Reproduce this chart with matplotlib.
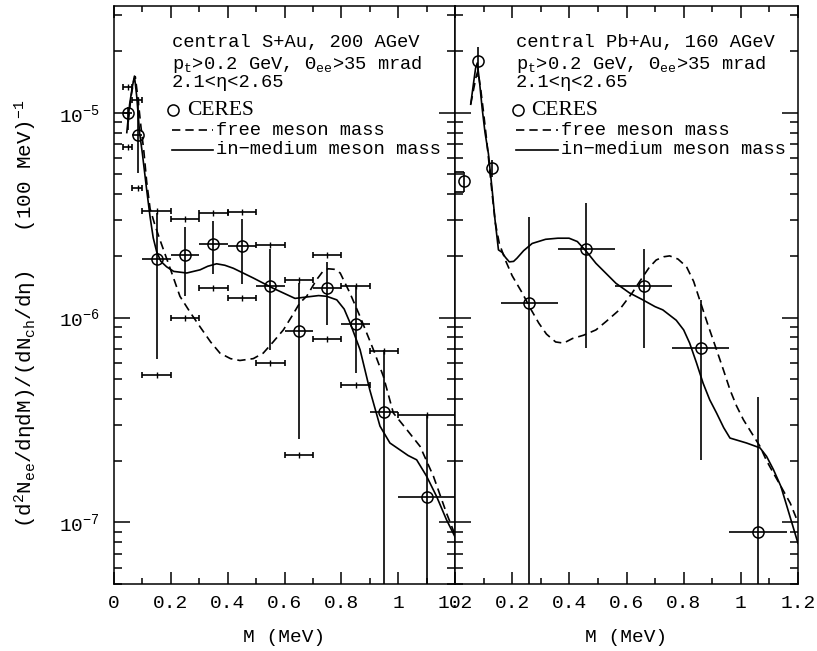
import numpy as np
import matplotlib
matplotlib.use('Agg')
import matplotlib.pyplot as plt
from matplotlib.ticker import MultipleLocator, LogLocator, NullFormatter, FuncFormatter

plt.rcParams['font.family'] = ['Liberation Mono', 'DejaVu Sans Mono']
plt.rcParams['mathtext.default'] = 'regular'

# ---- S+Au 200 AGeV (left panel) ----
sau_x = np.array([0.048, 0.083, 0.15, 0.25, 0.35, 0.45, 0.55, 0.65, 0.75, 0.85, 0.95, 1.1])
sau_xlo = np.array([0.03, 0.065, 0.1, 0.2, 0.3, 0.4, 0.5, 0.6, 0.7, 0.8, 0.9, 1.0])
sau_xhi = np.array([0.065, 0.1, 0.2, 0.3, 0.4, 0.5, 0.6, 0.7, 0.8, 0.9, 1.0, 1.2])
sau_y = np.array([1.0e-5, 7.8e-6, 1.93e-6, 2.02e-6, 2.28e-6, 2.24e-6, 1.43e-6, 8.6e-7,
                  1.40e-6, 9.35e-7, 3.45e-7, 1.33e-7])
sau_stat_hi = np.array([1.07e-5, 1.15e-5, 3.23e-6, 2.78e-6, 2.96e-6, 3.03e-6, 2.16e-6, 1.47e-6,
                        1.86e-6, 1.42e-6, 6.96e-7, 3.33e-7])
sau_stat_lo = np.array([8.2e-6, 5.06e-6, 6.27e-7, 1.27e-6, 1.63e-6, 1.45e-6, 6.95e-7, 2.55e-7,
                        9.2e-7, 5.35e-7, 1e-9, 1e-9])
sau_sys_hi = np.array([1.33e-5, 1.15e-5, 3.3e-6, 3.04e-6, 3.23e-6, 3.26e-6, 2.27e-6, 1.52e-6,
                       2.01e-6, 1.42e-6, 6.9e-7, 3.33e-7])
sau_sys_lo = np.array([6.83e-6, 4.3e-6, 5.25e-7, 1.0e-6, 1.39e-6, 1.25e-6, 5.99e-7, 2.13e-7,
                       7.9e-7, 4.66e-7, np.nan, np.nan])

sau_med_x = [0.045, 0.055, 0.065, 0.072, 0.08, 0.09, 0.10, 0.115, 0.127, 0.138, 0.15, 0.165,
             0.185, 0.21, 0.256, 0.303, 0.33, 0.361, 0.39, 0.42, 0.49, 0.56, 0.637, 0.678,
             0.72, 0.748, 0.784, 0.81, 0.831, 0.866, 0.9, 0.936, 0.971, 1.006, 1.035, 1.065,
             1.1, 1.135, 1.17, 1.2]
sau_med_y = [8.0e-6, 1.1e-5, 1.35e-5, 1.51e-5, 1.2e-5, 8.0e-6, 6.3e-6, 4.2e-6, 3.1e-6,
             2.45e-6, 2.1e-6, 1.88e-6, 1.77e-6, 1.68e-6, 1.65e-6, 1.71e-6, 1.78e-6, 1.83e-6,
             1.8e-6, 1.74e-6, 1.56e-6, 1.39e-6, 1.24e-6, 1.26e-6, 1.28e-6, 1.27e-6, 1.22e-6,
             1.1e-6, 9.4e-7, 6.96e-7, 4.44e-7, 2.95e-7, 2.44e-7, 2.26e-7, 2.12e-7, 2.02e-7,
             1.68e-7, 1.34e-7, 1.03e-7, 8.5e-8]
sau_free_x = [0.05, 0.06, 0.07, 0.075, 0.085, 0.095, 0.105, 0.115, 0.127, 0.145, 0.162, 0.2,
              0.232, 0.27, 0.303, 0.34, 0.373, 0.41, 0.443, 0.49, 0.525, 0.56, 0.596, 0.625,
              0.654, 0.678, 0.713, 0.735, 0.754, 0.775, 0.796, 0.831, 0.866, 0.913, 0.948,
              0.983, 1.03, 1.077, 1.124, 1.17, 1.2]
sau_free_y = [9e-6, 1.2e-5, 1.45e-5, 1.5e-5, 1.15e-5, 8.5e-6, 6.5e-6, 4.6e-6, 3.4e-6, 2.8e-6,
              2.39e-6, 1.7e-6, 1.27e-6, 1.05e-6, 9.0e-7, 7.6e-7, 6.7e-7, 6.3e-7, 6.17e-7,
              6.3e-7, 6.7e-7, 7.6e-7, 8.7e-7, 1.01e-6, 1.18e-6, 1.27e-6, 1.53e-6, 1.68e-6,
              1.73e-6, 1.72e-6, 1.65e-6, 1.31e-6, 1.01e-6, 6.96e-7, 5.16e-7, 3.42e-7, 2.84e-7,
              2.35e-7, 1.68e-7, 1.11e-7, 8.7e-8]

# ---- Pb+Au 160 AGeV (right panel) ----
pbau_x = np.array([0.032, 0.08, 0.131, 0.26, 0.46, 0.66, 0.86, 1.06])
pbau_xerr = np.array([0.0, 0.0, 0.0, 0.1, 0.1, 0.1, 0.1, 0.1])
pbau_y = np.array([4.65e-6, 1.79e-5, 5.35e-6, 1.18e-6, 2.16e-6, 1.43e-6, 7.14e-7, 8.98e-8])
pbau_stat_hi = np.array([5.15e-6, 2.1e-5, 5.87e-6, 3.11e-6, 3.61e-6, 2.16e-6, 1.22e-6, 4.09e-7])
pbau_stat_lo = np.array([4.1e-6, 1.5e-5, 4.88e-6, 1e-9, 7.1e-7, 7.1e-7, 2.02e-7, 1e-9])
pbau_box_x = [0.0, 0.032]
pbau_box_y = [4.1e-6, 5.15e-6]

pbau_med_x = [0.055, 0.065, 0.072, 0.078, 0.085, 0.095, 0.105, 0.117, 0.13, 0.14, 0.152,
              0.165, 0.176, 0.19, 0.205, 0.217, 0.24, 0.27, 0.317, 0.36, 0.399, 0.428, 0.46,
              0.493, 0.563, 0.61, 0.657, 0.7, 0.727, 0.774, 0.8, 0.821, 0.845, 0.868, 0.891,
              0.915, 0.94, 0.962, 1.02, 1.067, 1.09, 1.114, 1.14, 1.161, 1.2]
pbau_med_y = [1.1e-5, 1.4e-5, 1.65e-5, 1.75e-5, 1.45e-5, 1.05e-5, 8e-6, 6.3e-6, 4.2e-6,
              3.0e-6, 2.14e-6, 2.08e-6, 1.97e-6, 1.87e-6, 1.88e-6, 1.95e-6, 2.12e-6, 2.3e-6,
              2.41e-6, 2.44e-6, 2.44e-6, 2.35e-6, 2.1e-6, 1.84e-6, 1.47e-6, 1.32e-6, 1.22e-6,
              1.13e-6, 1.09e-6, 9.7e-7, 8.7e-7, 7.5e-7, 6.0e-7, 4.78e-7, 3.97e-7, 3.42e-7,
              2.9e-7, 2.58e-7, 2.44e-7, 2.31e-7, 2.1e-7, 1.81e-7, 1.5e-7, 1.2e-7, 7.9e-8]
pbau_free_x = [0.055, 0.065, 0.074, 0.08, 0.09, 0.1, 0.11, 0.12, 0.13, 0.141, 0.155, 0.176,
               0.2, 0.235, 0.265, 0.293, 0.32, 0.352, 0.38, 0.411, 0.45, 0.493, 0.53, 0.575,
               0.62, 0.657, 0.68, 0.704, 0.73, 0.751, 0.78, 0.81, 0.835, 0.856, 0.885, 0.915,
               0.94, 0.962, 0.985, 1.009, 1.04, 1.067, 1.09, 1.114, 1.14, 1.173, 1.2]
pbau_free_y = [1.1e-5, 1.3e-5, 1.5e-5, 1.6e-5, 1.3e-5, 1.0e-5, 7.5e-6, 5.5e-6, 4.0e-6, 2.9e-6,
               2.3e-6, 1.91e-6, 1.6e-6, 1.32e-6, 1.1e-6, 9.4e-7, 8.3e-7, 7.6e-7, 7.5e-7,
               7.9e-7, 8.2e-7, 8.7e-7, 9.6e-7, 1.09e-6, 1.32e-6, 1.58e-6, 1.76e-6, 1.91e-6,
               1.98e-6, 2.0e-6, 1.93e-6, 1.77e-6, 1.5e-6, 1.22e-6, 9.2e-7, 6.96e-7, 5.5e-7,
               4.44e-7, 3.7e-7, 3.17e-7, 2.7e-7, 2.35e-7, 2.0e-7, 1.74e-7, 1.5e-7, 1.24e-7, 1.0e-7]

titles = [['central S+Au, 200 AGeV', r'p$_t$>0.2 GeV, Θ$_{ee}$>35 mrad', '2.1<η<2.65'],
          ['central Pb+Au, 160 AGeV', r'p$_t$>0.2 GeV, Θ$_{ee}$>35 mrad', '2.1<η<2.65']]

LW = 1.2
DASH = (0, (5, 3))

fig = plt.figure(figsize=(8.17, 6.51), dpi=100)
axL = fig.add_axes([114/817, 67/651, 341/817, 578/651])
axR = fig.add_axes([455/817, 67/651, 343/817, 578/651])


def style_axis(ax, ylabels):
    ax.set_yscale('log')
    ax.set_xlim(0, 1.2)
    ax.set_ylim(5.0e-8, 3.32e-5)
    ax.xaxis.set_major_locator(MultipleLocator(0.2))
    ax.xaxis.set_minor_locator(MultipleLocator(0.1))
    ax.xaxis.set_major_formatter(FuncFormatter(lambda v, p: '%g' % round(v, 2)))
    ax.yaxis.set_major_locator(LogLocator(base=10))
    ax.yaxis.set_minor_locator(LogLocator(base=10, subs=np.arange(2, 10)))
    ax.yaxis.set_minor_formatter(NullFormatter())
    ax.tick_params(which='both', direction='in', top=True, right=True, width=1.1,
                   labelsize=14)
    ax.tick_params(axis='x', which='major', length=8.6, pad=8)
    ax.tick_params(axis='x', which='minor', length=4.5)
    ax.tick_params(axis='y', which='major', length=11.5, pad=10)
    ax.tick_params(axis='y', which='minor', length=5.5)
    if not ylabels:
        ax.tick_params(axis='y', labelleft=False)
    for s in ax.spines.values():
        s.set_linewidth(1.1)
    ax.set_xlabel('M (MeV)', fontsize=14, labelpad=12)


def legend_block(ax, lines, x0):
    ys = [0.936, 0.898, 0.867]
    for t, y in zip(lines, ys):
        ax.text(x0, y, t, transform=ax.transAxes, fontsize=13.5, va='center', ha='left')
    ax.plot([x0 + 0.005], [0.820], transform=ax.transAxes, marker='o', ms=8, mfc='none',
            mec='k', mew=1.1, ls='none')
    ax.text(x0 + 0.045, 0.820, 'CERES', transform=ax.transAxes, fontsize=15.5,
            family='Liberation Serif', va='center', ha='left')
    ax.plot([x0, x0 + 0.122], [0.785, 0.785], transform=ax.transAxes, color='k', lw=LW,
            ls=DASH)
    ax.text(x0 + 0.13, 0.785, 'free meson mass', transform=ax.transAxes, fontsize=13.5,
            va='center', ha='left')
    ax.plot([x0, x0 + 0.122], [0.751, 0.751], transform=ax.transAxes, color='k', lw=LW)
    ax.text(x0 + 0.13, 0.751, 'in\u2212medium meson mass', transform=ax.transAxes,
            fontsize=13.5, va='center', ha='left')


# left panel
axL.plot(sau_free_x, sau_free_y, color='k', lw=LW, ls=DASH)
axL.plot(sau_med_x, sau_med_y, color='k', lw=LW)
axL.errorbar(sau_x, sau_y, xerr=[sau_x - sau_xlo, sau_xhi - sau_x],
             yerr=[sau_y - sau_stat_lo, sau_stat_hi - sau_y], fmt='o', ms=8,
             mfc='none', mec='k', mew=1.1, ecolor='k', elinewidth=LW, capsize=0)
for sys in (sau_sys_hi, sau_sys_lo):
    ok = ~np.isnan(sys)
    axL.errorbar(sau_x[ok], sys[ok], xerr=[sau_x[ok] - sau_xlo[ok], sau_xhi[ok] - sau_x[ok]],
                 fmt='|', ms=4, mec='k', color='k', elinewidth=LW, capsize=2, capthick=LW)
style_axis(axL, True)
legend_block(axL, titles[0], 0.169)

# right panel
axR.plot(pbau_free_x, pbau_free_y, color='k', lw=LW, ls=DASH)
axR.plot(pbau_med_x, pbau_med_y, color='k', lw=LW)
axR.errorbar(pbau_x, pbau_y, xerr=pbau_xerr,
             yerr=[pbau_y - pbau_stat_lo, pbau_stat_hi - pbau_y], fmt='o', ms=8,
             mfc='none', mec='k', mew=1.1, ecolor='k', elinewidth=LW, capsize=0)
axR.hlines(pbau_box_y, pbau_box_x[0], pbau_box_x[1], color='k', lw=LW)
style_axis(axR, False)
legend_block(axR, titles[1], 0.178)

fig.text(0.031, 0.518,
         r'(d$^2$N$_{ee}$/dηdM)/(dN$_{ch}$/dη)   (100 MeV)$^{-1}$',
         rotation=90, va='center', ha='center', fontsize=15)

fig.savefig('out.png', dpi=100, facecolor='white')
